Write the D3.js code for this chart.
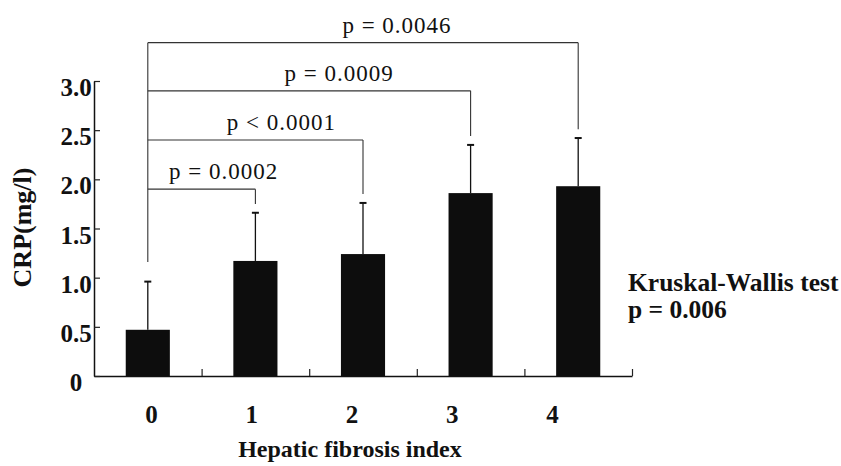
<!DOCTYPE html>
<html>
<head>
<meta charset="utf-8">
<script src="https://cdn.jsdelivr.net/npm/d3@7"></script>
<style>
  html, body { margin: 0; padding: 0; background: #fff; }
  svg { display: block; }
</style>
</head>
<body>
<svg id="chart" width="841" height="466"></svg>
<script>
// Hepatic fibrosis index groups and CRP (mean, SD)
const categories = ["0", "1", "2", "3", "4"];
const means = [0.47, 1.17, 1.24, 1.86, 1.93];
const sds = [0.49, 0.49, 0.52, 0.49, 0.49];

// Y axis ticks
const yTicks = [0, 0.5, 1.0, 1.5, 2.0, 2.5, 3.0];
const yTickLabels = ["0", "0.5", "1.0", "1.5", "2.0", "2.5", "3.0"];

// Pairwise comparisons against group "0"
const comparedGroups = ["1", "2", "3", "4"];
const pLabels = ["p = 0.0002", "p < 0.0001", "p = 0.0009", "p = 0.0046"];
const bracketLevels = [1.9, 2.4, 2.9, 3.39];

const svg = d3.select("#chart");
const serif = "'Liberation Serif', 'Times New Roman', serif";

const x = d3.scaleBand().domain(categories).range([94, 632]);
const xEdge = d3.scaleLinear().domain([0, categories.length]).range([94, 632]);
const xLabel = d3.scalePoint().domain(categories).range([151, 552]);
const y = d3.scaleLinear().domain([0, 3]).range([376, 81]);
const barW = x.bandwidth() * 0.41;
const cx = c => x(c) + x.bandwidth() / 2;

// Bars
svg.append("g").selectAll("rect")
  .data(categories)
  .join("rect")
  .attr("x", c => cx(c) - barW / 2)
  .attr("width", barW)
  .attr("y", (c, i) => y(means[i]))
  .attr("height", (c, i) => y(0) - y(means[i]))
  .attr("fill", "#0d0d0d");

// Upper error bars
const err = svg.append("g").attr("stroke", "#111").attr("stroke-width", 1.3);
categories.forEach((c, i) => {
  const top = y(means[i] + sds[i]);
  err.append("line").attr("x1", cx(c)).attr("x2", cx(c))
    .attr("y1", y(means[i])).attr("y2", top);
  err.append("line").attr("x1", cx(c) - 3.5).attr("x2", cx(c) + 3.5)
    .attr("y1", top).attr("y2", top).attr("stroke-width", 2);
});

// X axis: baseline with short upward ticks at group boundaries
const xAxis = svg.append("g").attr("transform", `translate(0,${y(0)})`)
  .call(d3.axisBottom(xEdge).tickValues([1, 2, 3, 4, 5]).tickSize(-7)
    .tickSizeOuter(0).tickFormat(""));
xAxis.select(".domain").attr("stroke", "#111").attr("stroke-width", 1.5);
xAxis.selectAll(".tick line").attr("stroke", "#222").attr("stroke-width", 1.2);

// X tick labels
const xLab = svg.append("g").attr("transform", `translate(0,${y(0)})`)
  .call(d3.axisBottom(xLabel).tickSize(0).tickPadding(0));
xLab.select(".domain").remove();
xLab.selectAll("text")
  .attr("y", 47).attr("dy", 0)
  .attr("font-family", serif).attr("font-weight", "bold")
  .attr("font-size", 25).attr("fill", "#111");

// Y axis with inward ticks
const yAxis = svg.append("g").attr("transform", `translate(${xEdge(0)},0)`)
  .call(d3.axisLeft(y).tickValues(yTicks).tickSize(-6).tickSizeOuter(0)
    .tickFormat((d, i) => yTickLabels[i]));
yAxis.select(".domain").attr("stroke", "#111").attr("stroke-width", 1.5);
yAxis.selectAll(".tick line").attr("stroke", "#222").attr("stroke-width", 1.2);
yAxis.selectAll("text")
  .attr("x", -18).attr("dy", "0.58em")
  .attr("text-anchor", "middle")
  .attr("font-family", serif).attr("font-weight", "bold")
  .attr("font-size", 25).attr("fill", "#111");

// Axis titles
svg.append("text")
  .attr("transform", `translate(31,${(y(0) + y(3)) / 2 - 1}) rotate(-90)`)
  .attr("text-anchor", "middle")
  .attr("font-family", serif).attr("font-weight", "bold")
  .attr("font-size", 26).attr("fill", "#111")
  .text("CRP(mg/l)");

svg.append("text")
  .attr("x", 350).attr("y", 457)
  .attr("text-anchor", "middle")
  .attr("font-family", serif).attr("font-weight", "bold")
  .attr("font-size", 24).attr("fill", "#111")
  .text("Hepatic fibrosis index");

// Comparison brackets
const br = svg.append("g").attr("stroke", "#333").attr("stroke-width", 1.1).attr("fill", "none");
const x0 = cx(categories[0]);
br.append("line").attr("x1", x0).attr("x2", x0)
  .attr("y1", y(d3.max(bracketLevels)))
  .attr("y2", y(means[0] + sds[0] + 0.2));
comparedGroups.forEach((g, k) => {
  const i = categories.indexOf(g);
  const xr = cx(g);
  const yl = y(bracketLevels[k]);
  br.append("line").attr("x1", x0).attr("x2", xr).attr("y1", yl).attr("y2", yl);
  br.append("line").attr("x1", xr).attr("x2", xr)
    .attr("y1", yl).attr("y2", y(means[i] + sds[i] + 0.09));
  svg.append("text")
    .attr("x", (x0 + xr) / 2 + 22 + k * 4)
    .attr("y", yl - 10)
    .attr("text-anchor", "middle")
    .attr("font-family", serif).attr("font-size", 23)
    .attr("letter-spacing", 1).attr("fill", "#111")
    .text(pLabels[k]);
});

// Overall test result
const kw = svg.append("text")
  .attr("font-family", serif).attr("font-weight", "bold")
  .attr("font-size", 25.5).attr("fill", "#111");
kw.append("tspan").attr("x", 628).attr("y", 291).text("Kruskal-Wallis test");
kw.append("tspan").attr("x", 628).attr("y", 318).text("p = 0.006");
</script>
</body>
</html>
